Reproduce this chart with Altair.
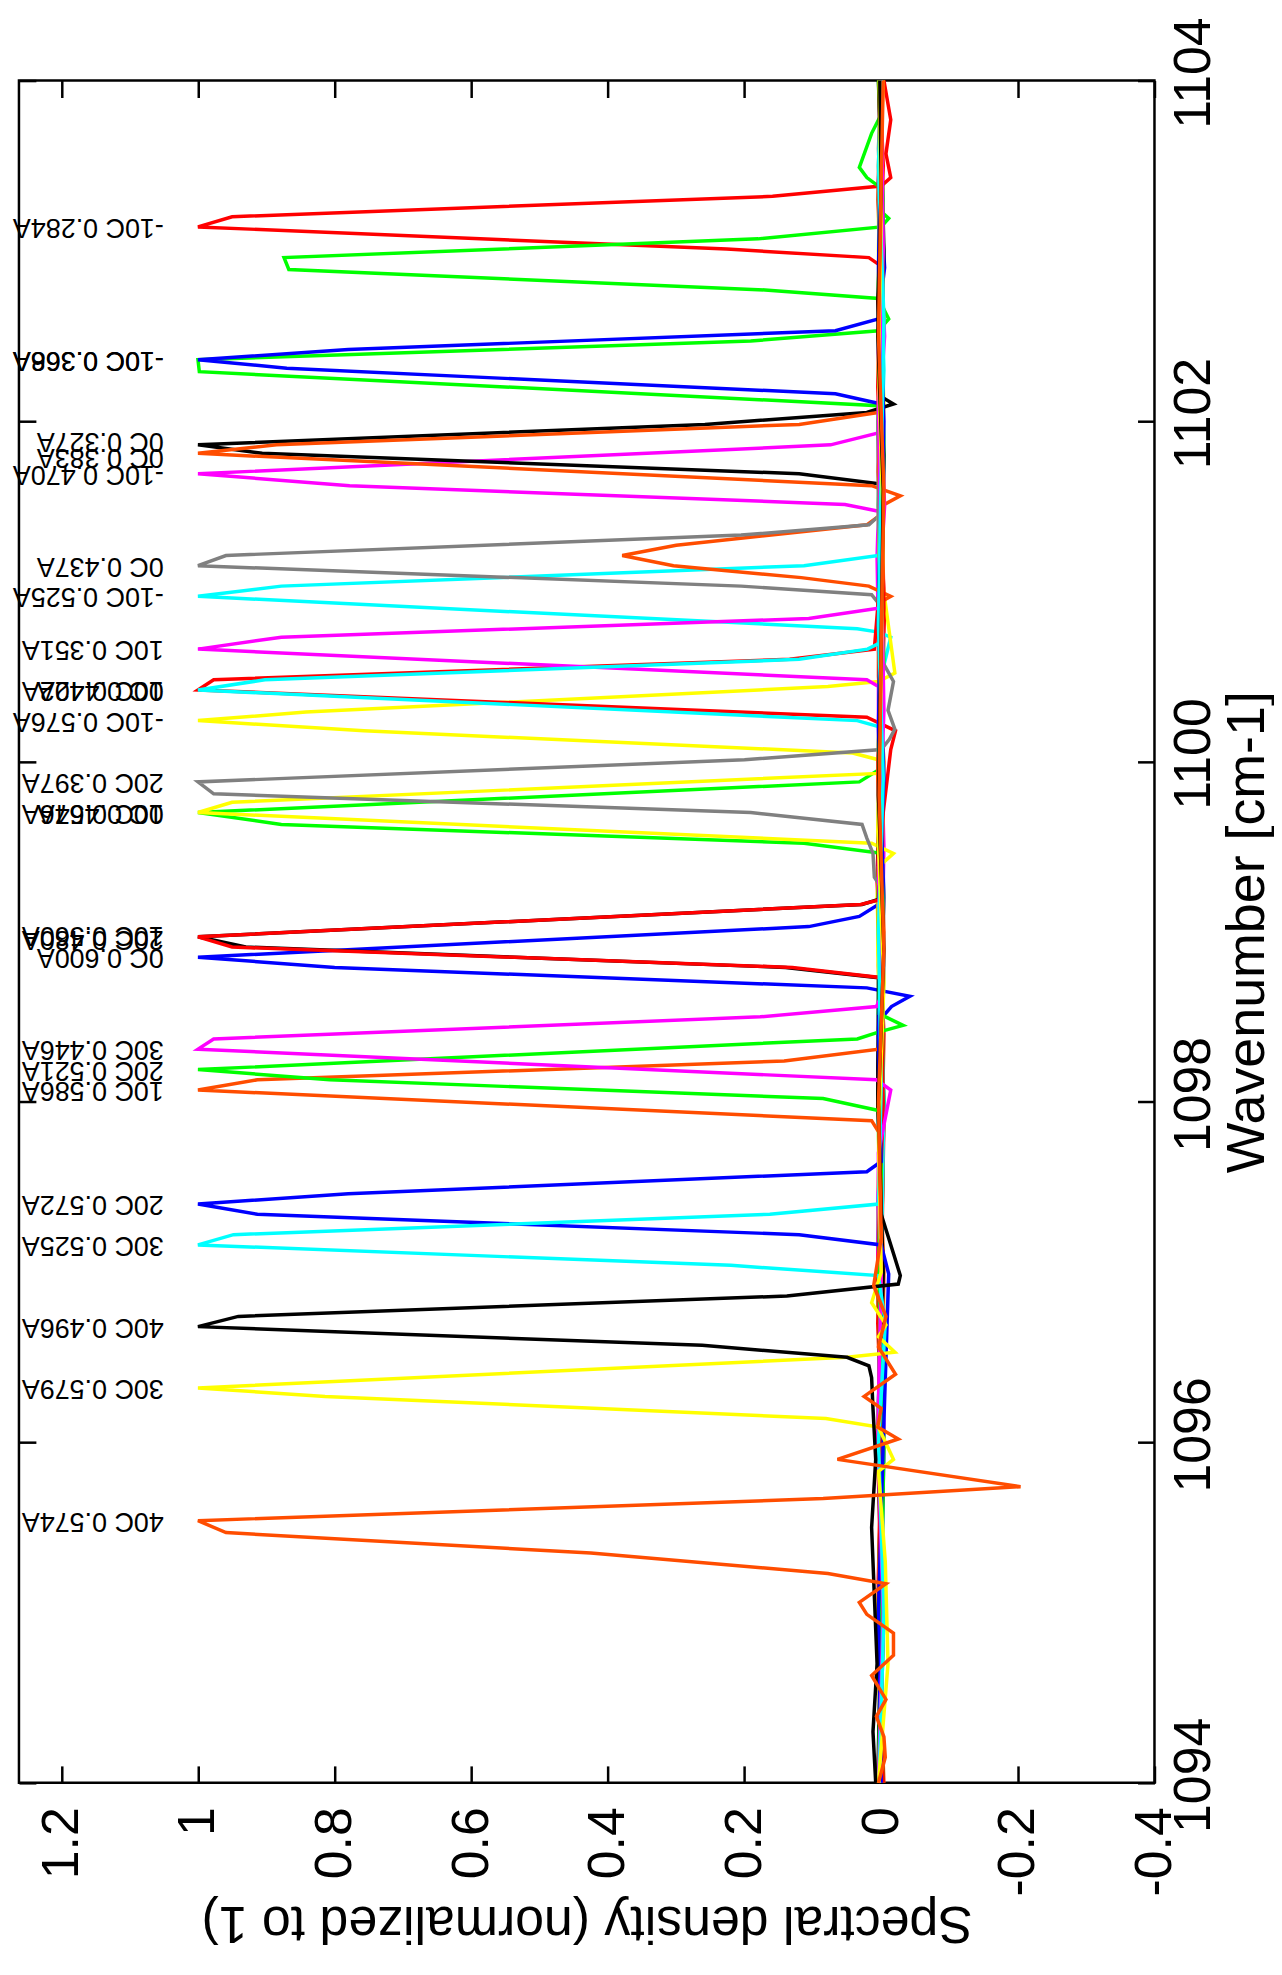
import altair as alt
import pandas as pd

x_ticks = [-0.4, -0.2, 0.0, 0.2, 0.4, 0.6, 0.8, 1.0, 1.2]
y_ticks = [1094, 1096, 1098, 1100, 1102, 1104]

labels = [
    "-10C 0.284A", "-10C 0.366A", "-10C 0.368A", "-10C 0.470A", "-10C 0.525A", "-10C 0.576A",
    "0C 0.327A", "0C 0.383A", "0C 0.437A", "0C 0.442A", "0C 0.467A", "0C 0.600A",
    "10C 0.351A", "10C 0.402A", "10C 0.546A", "10C 0.560A", "10C 0.586A",
    "20C 0.397A", "20C 0.480A", "20C 0.521A", "20C 0.572A",
    "30C 0.446A", "30C 0.525A", "30C 0.579A",
    "40C 0.496A", "40C 0.574A",
]
red, green, blue, magenta = "#ff0000", "#00ff00", "#0000ff", "#ff00ff"
cyan, yellow, black, orange, gray = "#00ffff", "#ffff00", "#000000", "#ff4d00", "#808080"
colors = [red, green, blue, magenta, cyan, yellow, black, orange, gray,
          red, green, blue, magenta, cyan, yellow, black, orange, gray,
          red, green, blue, magenta, cyan, yellow, black, orange]
# wavenumber at which each peak label sits
label_wn = [1103.14, 1102.36, 1102.36, 1101.69, 1100.97, 1100.24,
            1101.88, 1101.79, 1101.15, 1100.42, 1099.70, 1098.85,
            1100.66, 1100.42, 1099.70, 1098.98, 1098.07,
            1099.88, 1098.96, 1098.19, 1097.40,
            1098.31, 1097.16, 1096.32,
            1096.68, 1095.54]

# one spectrum per label: wavenumber points and normalized density
s01_wn = [1094.0, 1094.9, 1095.8, 1096.7, 1097.5, 1098.4, 1099.3, 1100.2, 1100.9, 1101.7, 1102.4, 1102.91, 1102.96, 1103.01, 1103.14, 1103.20, 1103.32, 1103.38, 1103.43, 1103.57, 1103.77, 1104.0]
s01_v = [0.0, 0.004, -0.003, 0.005, 0.0, -0.004, 0.006, 0.0, -0.005, 0.004, 0.0, 0.0, 0.018, 0.226, 1.0, 0.95, 0.159, 0.0, -0.014, -0.007, -0.014, -0.004]
s02_wn = [1094.0, 1095.0, 1096.0, 1097.0, 1098.0, 1099.0, 1100.0, 1101.0, 1101.9, 1102.09, 1102.29, 1102.36, 1102.47, 1102.53, 1102.60, 1102.72, 1102.77, 1102.89, 1102.96, 1103.07, 1103.14, 1103.19, 1103.23, 1103.38, 1103.43, 1103.49, 1103.69, 1103.80, 1104.0]
s02_v = [0.003, -0.004, 0.005, 0.0, -0.003, 0.0, 0.004, -0.003, 0.004, 0.004, 0.998, 1.0, 0.191, 0.004, -0.011, 0.004, 0.170, 0.867, 0.874, 0.180, 0.0, -0.011, 0.0, 0.004, 0.021, 0.032, 0.014, 0.0, 0.002]
s03_wn = [1094.0, 1095.1, 1096.2, 1097.3, 1098.2, 1099.2, 1100.1, 1101.0, 1101.8, 1102.10, 1102.16, 1102.31, 1102.36, 1102.42, 1102.53, 1102.60, 1102.9, 1103.5, 1104.0]
s03_v = [0.002, -0.003, 0.004, 0.0, 0.005, -0.004, 0.003, 0.0, -0.004, 0.0, 0.067, 0.87, 1.0, 0.78, 0.067, 0.004, -0.005, 0.003, 0.0]
s04_wn = [1094.0, 1095.2, 1096.3, 1097.4, 1098.6, 1099.5, 1100.5, 1101.2, 1101.47, 1101.51, 1101.62, 1101.69, 1101.86, 1101.93, 1102.5, 1103.3, 1104.0]
s04_v = [0.0, 0.004, -0.003, 0.005, 0.0, -0.004, 0.003, 0.006, 0.004, 0.053, 0.778, 1.0, 0.074, 0.004, -0.005, 0.004, 0.0]
s05_wn = [1094.0, 1095.0, 1096.1, 1097.1, 1098.0, 1099.0, 1099.9, 1100.5, 1100.73, 1100.76, 1100.78, 1100.97, 1101.03, 1101.15, 1101.21, 1101.8, 1102.7, 1103.5, 1104.0]
s05_v = [0.003, -0.004, 0.004, 0.0, 0.005, -0.003, 0.004, 0.0, -0.014, 0.004, 0.035, 1.0, 0.878, 0.113, 0.004, -0.003, 0.004, 0.0, 0.002]
s06_wn = [1094.0, 1094.8, 1095.7, 1096.6, 1097.5, 1098.4, 1099.2, 1099.8, 1100.01, 1100.05, 1100.18, 1100.24, 1100.29, 1100.44, 1100.47, 1100.52, 1101.2, 1102.1, 1103.0, 1104.0]
s06_v = [-0.003, 0.005, 0.0, -0.006, 0.004, 0.0, 0.006, -0.003, 0.004, 0.042, 0.757, 1.0, 0.842, 0.078, 0.004, -0.02, 0.003, -0.004, 0.004, 0.0]
s07_wn = [1094.0, 1095.0, 1096.0, 1097.0, 1098.0, 1099.0, 1100.0, 1100.9, 1101.63, 1101.69, 1101.81, 1101.86, 1101.98, 1102.05, 1102.10, 1102.15, 1103.0, 1104.0]
s07_v = [0.005, -0.003, 0.004, 0.0, -0.004, 0.005, 0.0, 0.004, 0.0, 0.12, 0.906, 1.0, 0.258, 0.021, -0.018, 0.003, -0.004, 0.002]
s08_wn = [1094.0, 1095.0, 1096.1, 1097.0, 1098.0, 1099.0, 1100.0, 1100.5, 1100.93, 1100.97, 1101.03, 1101.08, 1101.15, 1101.21, 1101.27, 1101.39, 1101.44, 1101.50, 1101.56, 1101.62, 1101.81, 1101.86, 1101.98, 1102.05, 1102.6, 1103.3, 1104.0]
s08_v = [-0.004, 0.005, 0.0, -0.004, 0.005, 0.0, -0.004, 0.004, 0.004, -0.014, 0.018, 0.117, 0.304, 0.379, 0.30, 0.021, 0.004, 0.0, -0.028, 0.014, 1.0, 0.885, 0.12, 0.004, -0.004, 0.005, 0.0]
s09_wn = [1094.0, 1095.1, 1096.2, 1097.2, 1098.3, 1099.2, 1100.0, 1100.6, 1100.93, 1100.98, 1101.03, 1101.15, 1101.21, 1101.33, 1101.39, 1101.44, 1102.0, 1102.8, 1103.6, 1104.0]
s09_v = [0.0, 0.004, -0.003, 0.005, 0.0, -0.004, 0.004, 0.0, 0.004, 0.014, 0.205, 1.0, 0.959, 0.205, 0.018, 0.004, 0.005, -0.003, 0.004, 0.0]
s10_wn = [1094.0, 1094.9, 1095.9, 1096.9, 1097.9, 1098.8, 1099.6, 1100.07, 1100.18, 1100.26, 1100.42, 1100.48, 1100.60, 1100.66, 1101.3, 1102.2, 1103.1, 1104.0]
s10_v = [0.004, -0.003, 0.005, 0.0, -0.004, 0.004, 0.0, -0.014, -0.021, 0.021, 1.0, 0.977, 0.134, 0.01, -0.003, 0.005, 0.0, 0.003]
s11_wn = [1094.0, 1095.0, 1096.0, 1097.0, 1098.0, 1098.9, 1099.46, 1099.52, 1099.63, 1099.70, 1099.88, 1099.95, 1100.6, 1101.5, 1102.4, 1103.3, 1104.0]
s11_v = [-0.003, 0.004, 0.0, 0.005, -0.004, 0.004, 0.0, 0.113, 0.878, 1.0, 0.032, 0.004, -0.004, 0.004, 0.0, -0.003, 0.004]
s12_wn = [1094.0, 1095.0, 1096.0, 1097.0, 1097.9, 1098.49, 1098.56, 1098.62, 1098.67, 1098.79, 1098.85, 1099.03, 1099.09, 1099.16, 1099.9, 1100.8, 1101.7, 1102.6, 1103.4, 1104.0]
s12_v = [0.004, 0.0, -0.004, 0.005, 0.0, 0.0, -0.015, -0.042, 0.021, 0.80, 1.0, 0.106, 0.032, 0.004, -0.004, 0.004, 0.0, -0.003, 0.004, 0.0]
s13_wn = [1094.0, 1095.1, 1096.1, 1097.1, 1098.0, 1099.0, 1099.8, 1100.44, 1100.48, 1100.66, 1100.73, 1100.84, 1100.90, 1101.5, 1102.4, 1103.2, 1104.0]
s13_v = [0.0, 0.004, -0.004, 0.005, 0.0, -0.003, 0.004, 0.004, 0.021, 1.0, 0.878, 0.106, 0.004, -0.005, 0.004, 0.0, 0.003]
s14_wn = [1094.0, 1095.0, 1096.0, 1097.0, 1098.0, 1099.0, 1099.7, 1100.20, 1100.24, 1100.42, 1100.48, 1100.60, 1100.66, 1100.70, 1101.4, 1102.3, 1103.2, 1104.0]
s14_v = [0.004, -0.003, 0.005, 0.0, -0.004, 0.004, 0.0, 0.0, 0.035, 1.0, 0.902, 0.12, 0.02, 0.0, 0.004, -0.004, 0.003, 0.0]
s15_wn = [1094.0, 1095.0, 1096.0, 1097.0, 1098.0, 1098.9, 1099.38, 1099.46, 1099.52, 1099.70, 1099.76, 1099.93, 1100.5, 1101.4, 1102.3, 1103.2, 1104.0]
s15_v = [0.0, 0.005, -0.004, 0.004, 0.0, 0.005, 0.004, -0.018, 0.014, 1.0, 0.95, 0.004, -0.003, 0.004, 0.0, 0.004, -0.003]
s16_wn = [1094.0, 1095.0, 1096.0, 1097.0, 1098.0, 1098.73, 1098.79, 1098.91, 1098.97, 1099.16, 1099.19, 1100.0, 1100.9, 1101.8, 1102.7, 1103.4, 1104.0]
s16_v = [0.005, 0.0, 0.004, -0.003, 0.005, 0.004, 0.14, 0.93, 1.0, 0.028, 0.004, 0.004, 0.0, -0.004, 0.005, 0.0, 0.004]
s17_wn = [1094.0, 1095.0, 1096.0, 1097.0, 1097.8, 1097.89, 1098.07, 1098.13, 1098.24, 1098.31, 1099.0, 1099.9, 1100.8, 1101.7, 1102.6, 1103.5, 1104.0]
s17_v = [0.004, -0.004, 0.005, 0.0, 0.0, 0.014, 1.0, 0.913, 0.142, 0.004, -0.004, 0.005, 0.0, 0.004, -0.003, 0.004, 0.0]
s18_wn = [1094.0, 1095.0, 1096.0, 1097.0, 1098.0, 1098.8, 1099.26, 1099.32, 1099.46, 1099.55, 1099.63, 1099.70, 1099.81, 1099.88, 1100.01, 1100.07, 1100.13, 1100.19, 1100.30, 1100.47, 1100.6, 1101.5, 1102.4, 1103.3, 1104.0]
s18_v = [0.0, 0.004, -0.003, 0.004, 0.0, -0.004, 0.0, 0.01, 0.012, 0.021, 0.028, 0.191, 0.977, 1.0, 0.20, 0.0, -0.012, -0.02, -0.01, -0.018, 0.0, 0.004, -0.003, 0.004, 0.0]
s19_wn = [1094.0, 1095.0, 1096.0, 1097.0, 1098.0, 1098.73, 1098.79, 1098.91, 1098.97, 1099.16, 1099.19, 1100.0, 1100.9, 1101.8, 1102.7, 1103.5, 1104.0]
s19_v = [-0.003, 0.004, 0.0, 0.005, -0.003, 0.0, 0.13, 0.95, 1.0, 0.03, 0.0, 0.004, -0.004, 0.0, 0.004, -0.003, 0.002]
s20_wn = [1094.0, 1095.0, 1096.0, 1097.0, 1097.6, 1097.95, 1098.02, 1098.13, 1098.19, 1098.37, 1098.41, 1098.45, 1098.52, 1099.2, 1100.1, 1101.0, 1101.9, 1102.8, 1103.6, 1104.0]
s20_v = [0.004, 0.0, -0.004, 0.004, 0.0, 0.004, 0.085, 0.807, 1.0, 0.035, 0.004, -0.032, 0.004, -0.003, 0.004, 0.0, -0.004, 0.004, 0.0, 0.003]
s21_wn = [1094.0, 1095.0, 1096.0, 1096.99, 1097.16, 1097.22, 1097.34, 1097.40, 1097.46, 1097.59, 1097.65, 1098.4, 1099.3, 1100.2, 1101.1, 1102.0, 1102.9, 1103.7, 1104.0]
s21_v = [0.0, 0.004, -0.003, -0.011, 0.0, 0.12, 0.913, 1.0, 0.78, 0.021, 0.0, 0.004, -0.003, 0.004, 0.0, -0.004, 0.004, 0.0, 0.002]
s22_wn = [1094.0, 1095.0, 1096.0, 1097.0, 1097.7, 1098.07, 1098.13, 1098.31, 1098.37, 1098.50, 1098.56, 1098.62, 1099.4, 1100.3, 1101.2, 1102.1, 1103.0, 1104.0]
s22_v = [0.004, -0.003, 0.005, 0.0, 0.004, -0.014, 0.007, 1.0, 0.977, 0.177, 0.007, 0.0, 0.004, -0.004, 0.0, 0.004, -0.003, 0.0]
s23_wn = [1094.0, 1095.0, 1096.0, 1096.7, 1096.98, 1097.04, 1097.16, 1097.22, 1097.34, 1097.40, 1098.1, 1099.0, 1099.9, 1100.8, 1101.7, 1102.6, 1103.5, 1104.0]
s23_v = [0.003, -0.004, 0.004, -0.006, 0.004, 0.22, 1.0, 0.948, 0.163, 0.004, 0.0, 0.004, -0.003, 0.004, 0.0, -0.004, 0.004, 0.0]
s24_wn = [1094.0, 1094.7, 1095.3, 1095.83, 1095.90, 1096.09, 1096.14, 1096.27, 1096.32, 1096.50, 1096.53, 1096.62, 1096.69, 1096.82, 1097.0, 1097.8, 1098.7, 1099.6, 1100.5, 1101.4, 1102.3, 1103.2, 1104.0]
s24_v = [0.004, -0.01, -0.006, 0.004, -0.018, 0.004, 0.081, 0.814, 1.0, 0.05, -0.02, 0.004, -0.007, 0.014, 0.0, 0.004, -0.004, 0.005, 0.0, -0.003, 0.004, 0.0, 0.003]
s25_wn = [1094.0, 1094.3, 1094.7, 1095.1, 1095.5, 1095.9, 1096.2, 1096.38, 1096.45, 1096.50, 1096.57, 1096.68, 1096.74, 1096.86, 1096.93, 1096.98, 1097.11, 1097.34, 1098.0, 1098.9, 1099.8, 1100.7, 1101.6, 1102.5, 1103.4, 1104.0]
s25_v = [0.008, 0.012, 0.006, 0.01, 0.014, 0.008, 0.012, 0.014, 0.018, 0.05, 0.262, 1.0, 0.941, 0.138, -0.025, -0.028, -0.018, 0.0, 0.004, -0.004, 0.004, 0.0, -0.003, 0.005, 0.0, 0.002]
s26_wn = [1094.0, 1094.15, 1094.27, 1094.39, 1094.49, 1094.63, 1094.75, 1094.88, 1094.99, 1095.06, 1095.17, 1095.23, 1095.35, 1095.47, 1095.54, 1095.67, 1095.74, 1095.90, 1096.02, 1096.09, 1096.20, 1096.27, 1096.40, 1096.56, 1096.74, 1096.92, 1097.2, 1098.0, 1098.9, 1099.8, 1100.7, 1101.6, 1102.5, 1103.4, 1104.0]
s26_v = [0.004, -0.006, -0.004, 0.007, -0.007, 0.014, -0.018, -0.018, 0.021, 0.032, -0.007, 0.078, 0.425, 0.959, 1.0, 0.085, -0.204, 0.064, -0.025, 0.005, 0.0, 0.025, -0.021, 0.004, -0.007, 0.011, 0.0, 0.004, -0.004, 0.003, 0.0, -0.004, 0.004, 0.0, -0.003]

series_wn = [s01_wn, s02_wn, s03_wn, s04_wn, s05_wn, s06_wn, s07_wn, s08_wn, s09_wn, s10_wn,
             s11_wn, s12_wn, s13_wn, s14_wn, s15_wn, s16_wn, s17_wn, s18_wn, s19_wn, s20_wn,
             s21_wn, s22_wn, s23_wn, s24_wn, s25_wn, s26_wn]
series_v = [s01_v, s02_v, s03_v, s04_v, s05_v, s06_v, s07_v, s08_v, s09_v, s10_v,
            s11_v, s12_v, s13_v, s14_v, s15_v, s16_v, s17_v, s18_v, s19_v, s20_v,
            s21_v, s22_v, s23_v, s24_v, s25_v, s26_v]

rows = []
for name, wns, vs in zip(labels, series_wn, series_v):
    for w, v in zip(wns, vs):
        rows.append({"series": name, "wn": w, "v": v})
lines_df = pd.DataFrame(rows)

label_x = 1.05  # where the peak labels start, in density units
lab_df = pd.DataFrame({"label": labels, "wn": label_wn, "lx": [label_x] * len(labels)})

FONT = "Liberation Sans"
x_scale = alt.Scale(domain=[-0.4, 1.262], reverse=True, nice=False, zero=False)
y_scale = alt.Scale(domain=[1094, 1104], nice=False, zero=False)

lines = alt.Chart(lines_df).mark_line(strokeWidth=3.5).encode(
    x=alt.X("v:Q", scale=x_scale,
            axis=alt.Axis(orient="bottom", offset=-17, domain=False, grid=False,
                          values=x_ticks, tickSize=17, tickWidth=2.5, tickColor="black",
                          labelAngle=270, labelAlign="right", labelBaseline="middle",
                          labelPadding=24, labelFontSize=52, labelFont=FONT, labelColor="black",
                          labelFlush=False, labelOverlap=False,
                          labelExpr="datum.value < 0 ? '-' + format(-datum.value, '~g') : format(datum.value, '~g')",
                          title="Spectral density (normalized to 1)", titleAngle=180,
                          titleBaseline="bottom", titleFontSize=52, titleFont=FONT,
                          titleFontWeight="normal", titleColor="black", titlePadding=0)),
    y=alt.Y("wn:Q", scale=y_scale,
            axis=alt.Axis(orient="right", offset=-17, domain=False, grid=False,
                          values=y_ticks, tickSize=17, tickWidth=2.5, tickColor="black",
                          labelAngle=270, labelAlign="center", labelBaseline="top",
                          labelPadding=14, labelOffset=-8, labelFontSize=52, labelFont=FONT,
                          labelColor="black", labelFlush=False, labelOverlap=False, format="d",
                          title="Wavenumber [cm-1]", titleAngle=270, titleBaseline="top",
                          titleFontSize=54, titleFont=FONT, titleFontWeight="normal",
                          titleColor="black", titlePadding=1)),
    color=alt.Color("series:N", scale=alt.Scale(domain=labels, range=colors), legend=None),
    order=alt.Order("wn:Q"),
)

peak_text = alt.Chart(lab_df).mark_text(
    angle=180, align="left", baseline="middle", fontSize=27, font=FONT, color="black"
).encode(
    x=alt.X("lx:Q", axis=alt.Axis(orient="top", offset=-17, domain=False, labels=False, grid=False,
                                  values=x_ticks, tickSize=17, tickWidth=2.5, tickColor="black",
                                  title=None)),
    y=alt.Y("wn:Q", axis=alt.Axis(orient="left", offset=-17, domain=False, labels=False, grid=False,
                                  values=y_ticks, tickSize=17, tickWidth=2.5, tickColor="black",
                                  title=None)),
    text="label:N",
)

chart = alt.layer(lines, peak_text).resolve_axis(
    x="independent", y="independent"
).properties(
    width=1140, height=1709,
    padding={"left": 4, "top": 5, "right": 0, "bottom": 0},
    background="white",
).configure_view(stroke="black", strokeWidth=2.5)

chart.save("out.html", embed_options={"renderer": "svg", "actions": False})
